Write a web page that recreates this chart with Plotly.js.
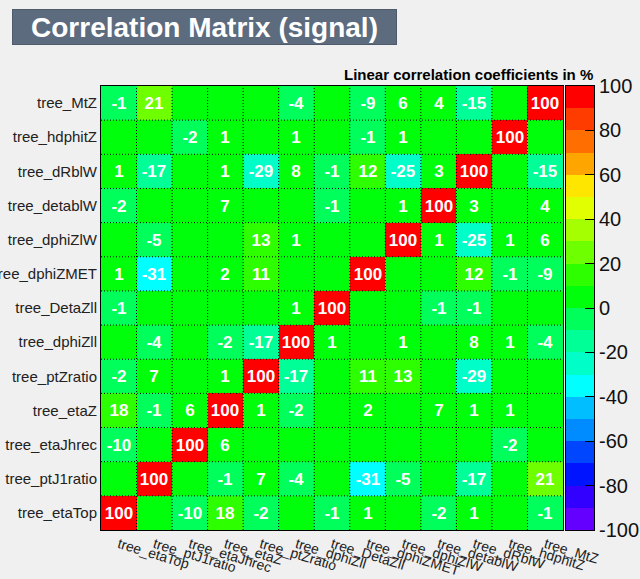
<!DOCTYPE html>
<html>
<head>
<meta charset="utf-8">
<script src="https://cdn.plot.ly/plotly-3.0.1.min.js"></script>
<style>
  html, body { margin: 0; padding: 0; background: #f0f0f0; }
  #chart { width: 640px; height: 579px; }
</style>
</head>
<body>
<div id="chart"></div>
<script>
// Variable names (x: left -> right, y: bottom -> top)
const variables = ["tree_etaTop", "tree_ptJ1ratio", "tree_etaJhrec", "tree_etaZ", "tree_ptZratio",
  "tree_dphiZll", "tree_DetaZll", "tree_dphiZMET", "tree_dphiZlW", "tree_detablW",
  "tree_dRblW", "tree_hdphitZ", "tree_MtZ"];

// Linear correlation coefficients in %, one row per y variable (bottom -> top)
const row_etaTop    = [100, 0, -10, 18, -2, 0, -1, 1, 0, -2, 1, 0, -1];
const row_ptJ1ratio = [0, 100, 0, -1, 7, -4, 0, -31, -5, 0, -17, 0, 21];
const row_etaJhrec  = [-10, 0, 100, 6, 0, 0, 0, 0, 0, 0, 0, -2, 0];
const row_etaZ      = [18, -1, 6, 100, 1, -2, 0, 2, 0, 7, 1, 1, 0];
const row_ptZratio  = [-2, 7, 0, 1, 100, -17, 0, 11, 13, 0, -29, 0, 0];
const row_dphiZll   = [0, -4, 0, -2, -17, 100, 1, 0, 1, 0, 8, 1, -4];
const row_DetaZll   = [-1, 0, 0, 0, 0, 1, 100, 0, 0, -1, -1, 0, 0];
const row_dphiZMET  = [1, -31, 0, 2, 11, 0, 0, 100, 0, 0, 12, -1, -9];
const row_dphiZlW   = [0, -5, 0, 0, 13, 1, 0, 0, 100, 1, -25, 1, 6];
const row_detablW   = [-2, 0, 0, 7, 0, 0, -1, 0, 1, 100, 3, 0, 4];
const row_dRblW     = [1, -17, 0, 1, -29, 8, -1, 12, -25, 3, 100, 0, -15];
const row_hdphitZ   = [0, 0, -2, 1, 0, 1, 0, -1, 1, 0, 0, 100, 0];
const row_MtZ       = [-1, 21, 0, 0, 0, -4, 0, -9, 6, 4, -15, 0, 100];

const colorbarTicks = [-100, -80, -60, -40, -20, 0, 20, 40, 60, 80, 100];

const z = [row_etaTop, row_ptJ1ratio, row_etaJhrec, row_etaZ, row_ptZratio, row_dphiZll,
  row_DetaZll, row_dphiZMET, row_dphiZlW, row_detablW, row_dRblW, row_hdphitZ, row_MtZ];
const text = z.map(r => r.map(v => v === 0 ? "" : String(v)));

// ROOT-like palette, 20 contour bins from -100 to 100
const palette = ["#6400ff", "#3200ff", "#0014ff", "#0046ff", "#008cff", "#00beff", "#00ffff",
  "#00ffc8", "#00ff96", "#00ff5a", "#00ff0a", "#2dff00", "#6eff00", "#a5ff00", "#e1ff00",
  "#ffe600", "#ffa500", "#ff6e00", "#ff3c00", "#ff0000"];
const zmin = -100, zmax = 100;
const colorscale = [];
palette.forEach((c, i) => {
  colorscale.push([i / palette.length, c]);
  colorscale.push([(i + 1) / palette.length, c]);
});
// colour-key bins (edges and centres) derived from the scale
const binW = (zmax - zmin) / palette.length;
const keyEdges = palette.map((c, i) => zmin + i * binW).concat([zmax]);
const keyZ = palette.map((c, i) => [zmin + (i + 0.5) * binW]);

const FONT = "Liberation Sans, Arial, sans-serif";

// dotted cell separators
const shapes = [];
for (let i = 1; i < variables.length; i++) {
  shapes.push({type: "line", xref: "x", yref: "y domain", x0: i - 0.5, x1: i - 0.5, y0: 0, y1: 1,
    line: {color: "#000", width: 1, dash: "1px,2px"}, layer: "above"});
  shapes.push({type: "line", xref: "x domain", yref: "y", x0: 0, x1: 1, y0: i - 0.5, y1: i - 0.5,
    line: {color: "#000", width: 1, dash: "1px,2px"}, layer: "above"});
}

const trace = {
  type: "heatmap",
  x: variables,
  y: variables,
  z: z,
  text: text,
  texttemplate: "%{text}",
  textfont: {family: FONT, size: 17, color: "#ffffff", weight: "bold"},
  zmin: zmin, zmax: zmax,
  colorscale: colorscale,
  showscale: false,
  hoverinfo: "skip",
  xaxis: "x", yaxis: "y"
};

const keyTrace = {
  type: "heatmap",
  x: [0],
  y: keyEdges,
  z: keyZ,
  zmin: zmin, zmax: zmax,
  colorscale: colorscale,
  showscale: false,
  hoverinfo: "skip",
  xaxis: "x2", yaxis: "y2"
};

// pixel geometry: plot 101..563, key 566..594, paper spans 101..594
const paperW = 594 - 101;
const paperH = 530 - 86;

const layout = {
  width: 640, height: 579,
  paper_bgcolor: "#f0f0f0",
  plot_bgcolor: "#f0f0f0",
  margin: {l: 101, r: 640 - 594, t: 86, b: 49, pad: 0},
  showlegend: false,
  xaxis: {
    domain: [0, (563 - 101) / paperW],
    type: "category", range: [-0.5, variables.length - 0.5],
    showgrid: false, zeroline: false, automargin: false,
    showline: true, mirror: true, linecolor: "#000", linewidth: 1,
    tickangle: 17, ticks: "",
    tickfont: {family: FONT, size: 14, color: "#222"},
    fixedrange: true
  },
  yaxis: {
    type: "category", range: [-0.5, variables.length - 0.5],
    showgrid: false, zeroline: false, automargin: false,
    showline: true, mirror: true, linecolor: "#000", linewidth: 1,
    ticks: "",
    tickfont: {family: FONT, size: 15, color: "#222"},
    fixedrange: true
  },
  xaxis2: {
    domain: [(566 - 101) / paperW, 1], anchor: "y2",
    range: [-0.5, 0.5],
    showticklabels: false, showgrid: false, zeroline: false, ticks: "",
    showline: true, mirror: true, linecolor: "#000", linewidth: 1,
    automargin: false, fixedrange: true
  },
  yaxis2: {
    anchor: "x2", side: "right",
    range: [zmin, zmax],
    tickmode: "array", tickvals: colorbarTicks, ticktext: colorbarTicks.map(String),
    ticks: "inside", ticklen: 9, tickcolor: "#000",
    tickfont: {family: FONT, size: 20, color: "#111"},
    showgrid: false, zeroline: false,
    showline: true, mirror: true, linecolor: "#000", linewidth: 1,
    automargin: false, fixedrange: true
  },
  shapes: shapes,
  annotations: [
    {
      text: "Correlation Matrix (signal)",
      xref: "paper", yref: "paper",
      x: (12 - 101) / paperW, xanchor: "left",
      y: (530 - 9) / paperH, yanchor: "top",
      showarrow: false,
      width: 383, height: 34, align: "center", valign: "middle",
      bgcolor: "#5d6b7e", bordercolor: "#4f5b6b", borderwidth: 1, borderpad: 0,
      font: {family: FONT, size: 28, color: "#ffffff", weight: "bold"}
    },
    {
      text: "Linear correlation coefficients in %",
      xref: "paper", yref: "paper",
      x: (595 - 101) / paperW, xanchor: "right",
      y: (530 - 75) / paperH, yanchor: "middle",
      showarrow: false,
      font: {family: FONT, size: 15, color: "#000", weight: "bold"}
    }
  ]
};

Plotly.newPlot("chart", [trace, keyTrace], layout, {staticPlot: true, displayModeBar: false});
</script>
</body>
</html>
